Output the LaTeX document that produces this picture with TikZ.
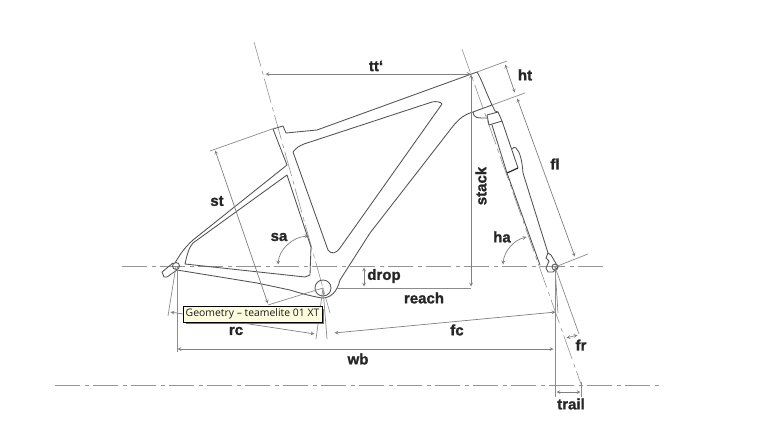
\documentclass[tikz,border=0pt]{standalone}
\usepackage{fontspec}
\setmainfont[BoldFeatures={FakeBold=1.4}]{Liberation Sans}
\newfontfamily\tipfont{Open Sans}
\usetikzlibrary{arrows}

\begin{document}
\begin{tikzpicture}[%
    x=1pt, y=-1pt,
    >=stealth,
    ]
% -------------------------------------------------
% Line and label styles
\tikzset{
  frameline/.style={draw=black!68, line width=0.85pt, line join=round},
  forkline/.style={frameline},
  axisline/.style={draw=black!42, line width=0.8pt, dash pattern=on 25pt off 5pt on 4pt off 4pt},
  slantaxis/.style={axisline, line width=0.6pt},
  extline/.style={draw=black!45, line width=0.7pt},
  dimline/.style={draw=black!50, line width=0.7pt, <->, shorten >=0.5pt, shorten <=0.5pt},
  lab/.style={font=\bfseries\fontsize{15}{15}\selectfont, text=black!85, inner sep=0pt},
  tip/.style={draw=black, fill=yellow!12, line width=0.6pt, inner sep=0pt,
    minimum width=139pt, minimum height=16pt, text=black!90,
    font=\tipfont\fontsize{10.4}{11}\selectfont}
}
\useasboundingbox (0,0) rectangle (769,434);
\fill [white] (0,0) rectangle (769,434);
% -------------------------------------------------
% Points the dimensions hang on
\coordinate (axleR) at (176,266);
\coordinate (axleF) at (555,267);
\coordinate (bb) at (323,288);
\coordinate (httop) at (477,72);
\coordinate (htlow) at (492,105);
\coordinate (ttend) at (471,74);
\coordinate (sttop) at (275,128);
\coordinate (seatA) at (254,42);
\coordinate (seatB) at (330,313);
\coordinate (headA) at (462,49);
\coordinate (headB) at (582,387);
% -------------------------------------------------
% Centre lines
\draw [axisline] (122,266) -- (604,266);
\draw [axisline] (55,385) -- (660,385);
\draw [slantaxis] (seatA) -- (seatB);
\draw [slantaxis] (headA) -- (headB);
% -------------------------------------------------
% Main frame, outer contour
\draw [frameline] (273,129) -- (283,126) -- (286,133) -- (317,130)
  -- (httop) .. controls (481,78) and (485,90) .. (htlow) -- (473,112)
  .. controls (462,115) and (456,122) .. (450,130)
  -- (370,233) -- (340,280)
  .. controls (337,292) and (331,298) .. (322,298)
  .. controls (310,296) and (300,293) .. (290,290)
  -- (257,283) -- (177,270);
\draw [frameline] (273,129) -- (287,165) -- (193,240)
  .. controls (184,248) and (179,256) .. (175,263);
\draw [frameline] (473,112) .. controls (474,118) and (476,118) .. (487,118);
\draw [frameline] (htlow) -- (495,111) -- (498,112);
% front triangle window
\draw [frameline] (293,152) .. controls (296,148) and (299,146) .. (304,144)
  -- (432,102) .. controls (436,101) and (441,102) .. (442,104)
  -- (340,248) .. controls (337,253) and (331,255) .. (328,250) -- cycle;
% rear triangle window
\draw [frameline] (287,175) -- (193,243) .. controls (189,247) and (187,255) .. (185,264)
  -- (305,277) -- (310,275) -- (311,247) -- cycle;
% bottom bracket and rear dropout
\draw [frameline] (bb) circle (8);
\draw [frameline] (176,266) circle (3.5);
\draw [frameline] (173,263) -- (162,272) -- (164,277) -- (167,277) -- (177,270);
% -------------------------------------------------
% Fork
\draw [forkline] (487,115) -- (498,112) -- (502,121) -- (489,125) -- cycle;
\draw [forkline] (492,125) -- (507,173);
\draw [forkline] (502,121) -- (518,168);
\draw [draw=black!85, line width=1.2pt] (507,173) -- (518,168);
\draw [forkline] (507,173) -- (540,265);
\draw [forkline] (512,149) .. controls (513,147) and (515,147) .. (516,148)
  .. controls (520,152) and (522,160) .. (523,173) -- (548,253);
\draw [forkline] (548,253) -- (546,258) -- (549,261) -- (546,268) -- (548,272) -- (553,272)
  -- (558,267) -- (551,255) -- (548,253);
\draw [forkline] (axleF) circle (3);
% -------------------------------------------------
% Extension lines
\draw [extline] (210,151) -- (sttop);
\draw [extline] (268,305) -- (bb);
\draw [extline] (httop) -- (507,61);
\draw [extline] (htlow) -- (525,93);
\draw [extline] (axleF) -- (588,254);
\draw [extline] (177,266) -- (177,352);
\draw [extline] (axleR) -- (168,316);
\draw [extline] (bb) -- (316,339);
\draw [extline] (bb) -- (327,339);
\draw [extline] (337,288) -- (471,288);
\draw [extline] (axleF) -- (558,313);
\draw [extline] (axleF) -- (555,397);
\draw [extline] (axleF) -- (579,334);
\draw [extline] (581,382) -- (581,397);
% -------------------------------------------------
% Dimension lines
\draw [dimline] (265,74) -- (ttend);
\draw [dimline] (ttend) -- (471,287);
\draw [dimline] (364,267) -- (364,287);
\draw [dimline] (505,64) -- (515,93);
\draw [dimline] (517,98) -- (575,257);
\draw [dimline] (215,150) -- (268,304);
\draw [dimline] (170,312) -- (315,334);
\draw [dimline] (334,333) -- (556,312);
\draw [dimline] (177,349) -- (554,349);
\draw [dimline] (566,338) -- (578,335);
\draw [dimline] (556,392) -- (581,392);
\draw [dimline] (278,265) .. controls (279,250) and (292,237) .. (309,236);
\draw [dimline] (503,265) .. controls (504,251) and (514,240) .. (527,237);
% -------------------------------------------------
% Labels
\node [lab] (ttlab) at (376,66) {tt‘};
\node [lab] (stlab) at (217,201) {st};
\node [lab] (salab) at (279,237) {sa};
\node [lab] (droplab) at (384,276) {drop};
\node [lab] (reachlab) at (424,298) {reach};
\node [lab, rotate=90] (stacklab) at (481,186) {stack};
\node [lab] (htlab) at (525,75) {ht};
\node [lab] (fllab) at (555,164) {fl};
\node [lab] (halab) at (502,237) {ha};
\node [lab] (rclab) at (236,331) {rc};
\node [lab] (fclab) at (457,330) {fc};
\node [lab] (wblab) at (358,359) {wb};
\node [lab] (frlab) at (581,345) {fr};
\node [lab] (traillab) at (571,404) {trail};
% Tooltip on top of everything
\fill [black!55] (186,309) rectangle (324,324);
\node [tip] (tooltip) at (252.5,314) {Geometry – teamelite 01 XT};
% -------------------------------------------------
\end{tikzpicture}
\end{document}
